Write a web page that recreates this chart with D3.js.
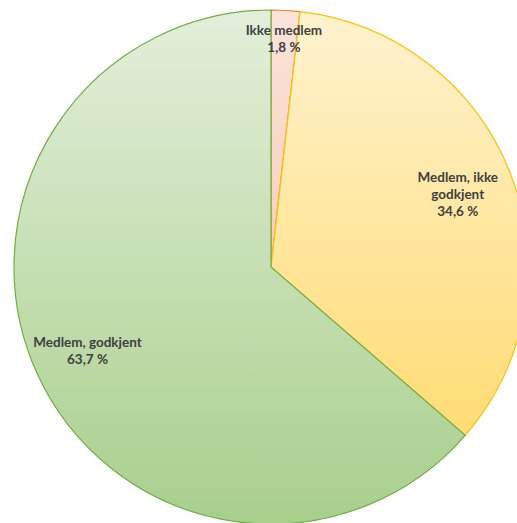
<!DOCTYPE html>
<html><head><meta charset="utf-8">
<script src="https://cdn.jsdelivr.net/npm/d3@7"></script>
<style>html,body{margin:0;padding:0;background:#fff;overflow:hidden}</style>
</head><body>
<svg id="c" width="517" height="523"></svg>
<script>
const categories = ["Ikke medlem", "Medlem, ikke godkjent", "Medlem, godkjent"];
const values = [1.8, 34.6, 63.7];
const labelLines = [["Ikke medlem", "1,8 %"], ["Medlem, ikke", "godkjent", "34,6 %"], ["Medlem, godkjent", "63,7 %"]];
const topColors = ["#fce4da", "#fff3d0", "#e3efda"];
const bottomColors = ["#f4b89d", "#ffd760", "#a8cf8c"];
const strokeColors = ["#ed7d31", "#ffc000", "#70ad47"];

const svg = d3.select("#c");
const cx = 271, cy = 267, r = 257;
const defs = svg.append("defs");
categories.forEach((c, i) => {
  const g = defs.append("linearGradient").attr("id", "g" + i)
    .attr("gradientUnits", "userSpaceOnUse")
    .attr("x1", 0).attr("y1", -r).attr("x2", 0).attr("y2", r);
  g.append("stop").attr("offset", "0%").attr("stop-color", topColors[i]);
  g.append("stop").attr("offset", "100%").attr("stop-color", bottomColors[i]);
});
const pie = d3.pie().sort(null).value(d => d)(values);
const arc = d3.arc().innerRadius(0).outerRadius(r);
const root = svg.append("g").attr("transform", `translate(${cx},${cy})`);
root.selectAll("path").data(pie).join("path")
  .attr("d", arc)
  .attr("fill", (d, i) => "url(#g" + i + ")")
  .attr("stroke", (d, i) => strokeColors[i])
  .attr("stroke-width", 1.2);

const labelR = [0.89, 0.78, 0.785];
const fs = 13.5, lh = 17;
pie.forEach((d, i) => {
  const a = (d.startAngle + d.endAngle) / 2;
  const rr = r * labelR[i];
  const x = Math.sin(a) * rr, y = -Math.cos(a) * rr;
  const lines = labelLines[i];
  const t = root.append("text").attr("text-anchor", "middle")
    .attr("font-family", "Lato, 'Open Sans', sans-serif").attr("font-weight", "bold")
    .attr("font-size", fs).attr("fill", "#404040");
  lines.forEach((l, j) => {
    t.append("tspan").attr("x", x)
      .attr("y", y + (j - (lines.length - 1) / 2) * lh + fs * 0.35).text(l);
  });
});
</script>
</body></html>
